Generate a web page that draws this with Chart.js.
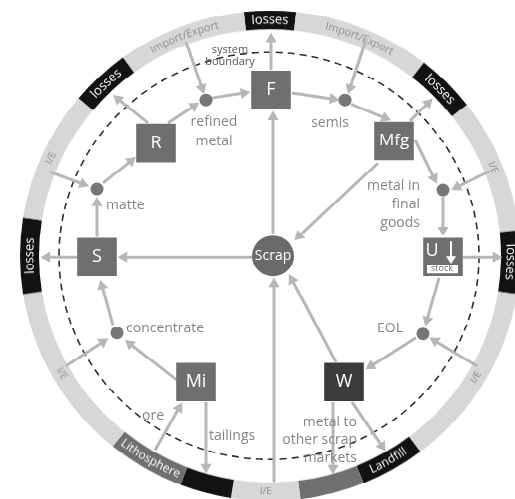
<!DOCTYPE html>
<html>
<head>
<meta charset="utf-8">
<script src="https://cdn.jsdelivr.net/npm/chart.js@4.4.1/dist/chart.umd.min.js"></script>
<style>
  html, body { margin: 0; padding: 0; background: #fff; overflow: hidden; }
  #wrap { position: relative; width: 515px; height: 515px; transform: scaleY(0.96893); transform-origin: 0 0; }
  #ring { position: absolute; left: 20px; top: 14px; transform: scaleY(1.012); transform-origin: 50% 50%; }
  #flow { position: absolute; left: 0; top: 0; }
</style>
</head>
<body>
<div id="wrap">
  <canvas id="ring" width="500" height="500"></canvas>
  <canvas id="flow" width="515" height="515"></canvas>
</div>
<script>
// outer ring, clockwise from the top (starts at -6 deg), spans in degrees
const ringLabels = ['losses', 'Import/Export', 'losses', 'I/E', 'losses', 'I/E', 'Landfill', '',
                    'I/E', '', 'Lithosphere', 'I/E', 'losses', 'I/E', 'losses', 'Import/Export'];
const ringSpans = [12, 32, 14, 32, 15, 44, 15, 15, 16, 12, 18, 42, 18, 31, 14, 30];
const ringKinds = ['sink', 'trade', 'sink', 'trade', 'sink', 'trade', 'sink', 'other',
                   'trade', 'sink', 'other', 'trade', 'sink', 'trade', 'sink', 'trade'];

// process boxes
const boxNames = ['F', 'R', 'Mfg', 'S', 'U', 'Mi', 'W'];
const boxX = [271, 156, 394, 97, 443, 196, 344];
const boxY = [90, 143, 141, 257, 257, 382, 382];

// scrap hub
const scrapX = [273];
const scrapY = [256];

// small junction dots
const junctionX = [206, 345, 97, 443, 117, 423];
const junctionY = [100, 100, 189, 190, 333, 334];

// flows: start point -> arrow head
const arrowFrom = [
  [186, 42], [168, 123], [148, 123], [212, 98], [271, 70], [292, 93], [366, 40], [351, 104],
  [410, 121], [415, 140], [490, 171], [378, 163], [443, 197], [463, 257], [439, 278], [477, 366],
  [416, 338], [336, 362], [333, 402], [352, 402], [252, 257], [78, 257], [97, 237], [103, 183],
  [50, 172], [113, 325], [66, 366], [177, 380], [155, 450], [206, 402], [274, 482], [273, 234]
];
const arrowTo = [
  [202, 88], [194, 106], [118, 99], [244, 93], [271, 39], [333, 99], [350, 88], [385, 118],
  [428, 103], [434, 178], [457, 187], [299, 236], [443, 230], [496, 257], [427, 320], [435, 341],
  [371, 366], [292, 280], [333, 468], [382, 446], [124, 257], [47, 257], [97, 203], [131, 161],
  [83, 184], [102, 286], [103, 342], [130, 344], [179, 408], [206, 467], [274, 284], [273, 117]
];

// text annotations
const labelText = ['refined', 'metal', 'semis', 'matte', 'metal in', 'final', 'goods', 'EOL',
                   'concentrate', 'ore', 'tailings', 'metal to', 'other scrap', 'markets'];
const labelX = [214, 214, 330, 106, 420, 420, 420, 390, 126, 153, 209, 357, 357, 357];
const labelY = [122, 141, 123, 205, 186, 204, 223, 328, 328, 416, 436, 422, 440, 458];
const labelAlign = ['center', 'center', 'center', 'left', 'right', 'right', 'right', 'center',
                    'left', 'center', 'left', 'right', 'right', 'right'];

// system boundary
const boundaryX = 269;
const boundaryY = 256;
const boundaryR = 210;

const FONT = '"Open Sans", "DejaVu Sans", sans-serif';
const kindColors = { sink: '#121212', trade: '#d7d7d7', other: '#6f6f6f' };
const arrowColor = '#b7b7b7';

const ringText = {
  id: 'ringText',
  afterDatasetsDraw(chart) {
    const ctx = chart.ctx;
    const arcs = chart.getDatasetMeta(0).data;
    arcs.forEach((arc, i) => {
      const label = ringLabels[i];
      if (!label) return;
      const p = arc.getProps(['x', 'y', 'startAngle', 'endAngle', 'innerRadius', 'outerRadius'], true);
      const mid = (p.startAngle + p.endAngle) / 2;
      const r = (p.innerRadius + p.outerRadius) / 2;
      let deg = (mid * 180 / Math.PI + 90) % 360;
      if (deg < 0) deg += 360;
      const bottom = deg > 100 && deg < 260;
      let size = 13;
      if (label === 'Import/Export') size = 11;
      if (label === 'I/E') size = 10;
      if (label === 'Lithosphere' || label === 'Landfill') size = 12;
      ctx.save();
      ctx.font = size + 'px ' + FONT;
      ctx.fillStyle = ringKinds[i] === 'trade' ? '#8e8e8e' : '#ffffff';
      ctx.textAlign = 'center';
      ctx.textBaseline = 'middle';
      const total = ctx.measureText(label).width;
      let acc = 0;
      for (const ch of label) {
        const cw = ctx.measureText(ch).width;
        const off = (acc + cw / 2 - total / 2) / r;
        const a = bottom ? mid - off : mid + off;
        ctx.save();
        ctx.translate(p.x + r * Math.cos(a), p.y + r * Math.sin(a));
        ctx.rotate(bottom ? a - Math.PI / 2 : a + Math.PI / 2);
        ctx.fillText(ch, 0, 0);
        ctx.restore();
        acc += cw;
      }
      ctx.restore();
    });
  }
};

new Chart(document.getElementById('ring'), {
  type: 'doughnut',
  data: {
    labels: ringLabels,
    datasets: [{
      data: ringSpans,
      backgroundColor: ringKinds.map(k => kindColors[k]),
      borderWidth: 0
    }]
  },
  options: {
    responsive: false,
    animation: false,
    events: [],
    rotation: -6,
    cutout: '92.4%',
    layout: { padding: 0 },
    plugins: { legend: { display: false }, tooltip: { enabled: false } }
  },
  plugins: [ringText]
});

const flowDecor = {
  id: 'flowDecor',
  beforeDatasetsDraw(chart) {
    const { ctx, scales: { x, y } } = chart;
    const cx = x.getPixelForValue(boundaryX);
    const cy = y.getPixelForValue(boundaryY);
    const r = x.getPixelForValue(boundaryX + boundaryR) - cx;
    ctx.save();
    ctx.beginPath();
    ctx.setLineDash([7, 5]);
    ctx.lineWidth = 1.6;
    ctx.strokeStyle = '#2e2e2e';
    ctx.arc(cx, cy, r, 0, Math.PI * 2);
    ctx.stroke();
    ctx.restore();
  },
  afterDatasetsDraw(chart) {
    const { ctx, scales: { x, y } } = chart;
    ctx.save();
    ctx.textBaseline = 'middle';

    // box names
    const boxes = chart.getDatasetMeta(0).data;
    boxes.forEach((pt, i) => {
      const name = boxNames[i];
      ctx.fillStyle = '#ffffff';
      ctx.textAlign = 'center';
      ctx.font = '18px ' + FONT;
      if (name === 'U') {
        ctx.fillText('U', pt.x - 11, pt.y - 6);
        // stock arrow
        ctx.strokeStyle = '#ffffff';
        ctx.lineWidth = 2;
        ctx.beginPath();
        ctx.moveTo(pt.x + 8, pt.y - 16);
        ctx.lineTo(pt.x + 8, pt.y + 2);
        ctx.stroke();
        ctx.beginPath();
        ctx.moveTo(pt.x + 3, pt.y - 1);
        ctx.lineTo(pt.x + 13, pt.y - 1);
        ctx.lineTo(pt.x + 8, pt.y + 7);
        ctx.closePath();
        ctx.fill();
        ctx.fillRect(pt.x - 16, pt.y + 8, 31, 9);
        ctx.fillStyle = '#6f6f6f';
        ctx.font = '9px ' + FONT;
        ctx.fillText('stock', pt.x - 1, pt.y + 12.5);
      } else {
        ctx.font = (name === 'Mfg' ? '17px ' : '18px ') + FONT;
        ctx.fillText(name, pt.x, pt.y);
      }
    });

    const hub = chart.getDatasetMeta(1).data[0];
    ctx.fillStyle = '#ffffff';
    ctx.textAlign = 'center';
    ctx.font = '14px ' + FONT;
    ctx.fillText('Scrap', hub.x, hub.y);

    // flow labels
    ctx.fillStyle = '#858585';
    ctx.font = '14px ' + FONT;
    labelText.forEach((t, i) => {
      ctx.textAlign = labelAlign[i];
      ctx.fillText(t, x.getPixelForValue(labelX[i]), y.getPixelForValue(labelY[i]));
    });

    ctx.fillStyle = '#555555';
    ctx.font = '11px ' + FONT;
    ctx.textAlign = 'center';
    ctx.fillText('system', x.getPixelForValue(230), y.getPixelForValue(50));
    ctx.fillText('boundary', x.getPixelForValue(230), y.getPixelForValue(62));
    ctx.restore();
  }
};

const arrowDatasets = arrowFrom.map((p, i) => {
  const q = arrowTo[i];
  const dx = q[0] - p[0];
  const dy = (q[1] - p[1]) * 515 / 499;
  const rot = Math.atan2(dx, -dy) * 180 / Math.PI;
  return {
    data: [{ x: p[0], y: p[1] }, { x: q[0], y: q[1] }],
    showLine: true,
    borderColor: arrowColor,
    borderWidth: 3,
    pointStyle: 'triangle',
    pointRadius: [0, 6.5],
    pointRotation: [0, rot],
    pointBackgroundColor: arrowColor,
    pointBorderWidth: 0,
    clip: false,
    order: 2
  };
});

new Chart(document.getElementById('flow'), {
  type: 'scatter',
  data: {
    datasets: [
      {
        data: boxX.map((v, i) => ({ x: v, y: boxY[i] })),
        pointStyle: 'rect',
        pointRadius: 28,
        pointBackgroundColor: boxNames.map(n => n === 'W' ? '#3b3b3b' : '#6f6f6f'),
        pointBorderWidth: 0,
        clip: false,
        order: 0
      },
      {
        data: scrapX.map((v, i) => ({ x: v, y: scrapY[i] })),
        pointStyle: 'circle',
        pointRadius: 21,
        pointBackgroundColor: '#6b6b6b',
        pointBorderWidth: 0,
        clip: false,
        order: 0
      },
      {
        data: junctionX.map((v, i) => ({ x: v, y: junctionY[i] })),
        pointStyle: 'circle',
        pointRadius: 6.5,
        pointBackgroundColor: '#767676',
        pointBorderWidth: 0,
        clip: false,
        order: 1
      },
      ...arrowDatasets
    ]
  },
  options: {
    responsive: false,
    animation: false,
    events: [],
    layout: { padding: 0, autoPadding: false },
    scales: {
      x: { type: 'linear', min: 0, max: 515, display: false },
      y: { type: 'linear', min: 0, max: 499, reverse: true, display: false }
    },
    plugins: { legend: { display: false }, tooltip: { enabled: false } }
  },
  plugins: [flowDecor]
});
</script>
</body>
</html>
